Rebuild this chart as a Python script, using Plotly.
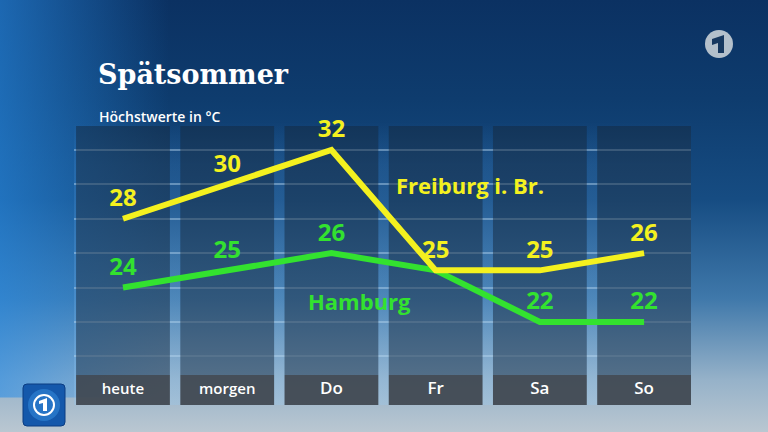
import plotly.graph_objects as go

# =====================================================
# DATA
# =====================================================
days = ["heute", "morgen", "Do", "Fr", "Sa", "So"]
freiburg = [28, 30, 32, 25, 25, 26]
hamburg = [24, 25, 26, 25, 22, 22]
hamburg_labels = ["24", "25", "26", "", "22", "22"]
grid_values = [20, 22, 24, 26, 28, 30, 32]

YELLOW = "#f4f11f"
GREEN = "#33e22f"
W, H = 768, 432

# y scale: column area and label band (in °C units of the chart axis)
y_lo, y_hi = 17.17, 33.86
col_base, col_top = 18.92, 33.4

fig = go.Figure()


def bg_rect(x0, x1, y0, y1, kind, scale, start, stop):
    """Gradient-filled rectangle on the full-canvas axis (0..1 both ways)."""
    fig.add_trace(go.Scatter(
        x=[x0, x1, x1, x0, x0], y=[y0, y0, y1, y1, y0],
        mode="lines", fill="toself", line=dict(width=0),
        fillgradient=dict(type=kind, start=start, stop=stop, colorscale=scale),
        hoverinfo="skip", showlegend=False,
    ))


def pix_path(points):
    """SVG path in paper coords from pixel points (top-left origin)."""
    parts = [f"{x / W},{1 - y / H}" for x, y in points]
    return "M " + " L ".join(parts) + " Z"


# --------------------------------------------------
# BACKGROUND
# --------------------------------------------------
bg_rect(0, 1, 0, 1, "vertical",
        [[0, "#bac7d1"], [0.12, "#96b2c9"], [0.31, "#3f78aa"],
         [0.54, "#164c82"], [0.77, "#0e3c6e"], [1, "#0b3162"]], 0, 1)
bg_rect(0, 0.22, 0.08, 1, "horizontal",
        [[0, "rgba(40,140,230,0.6)"], [1, "rgba(40,140,230,0)"]], 0, 0.22)
# light glow behind the columns (visible in the gaps)
bg_rect(74 / W, 691 / W, (H - 405) / H, (H - 122) / H, "vertical",
        [[0, "rgba(150,200,240,0.30)"], [0.85, "rgba(90,160,230,0.16)"],
         [1, "rgba(90,160,230,0)"]],
        (H - 405) / H, (H - 122) / H)

# --------------------------------------------------
# COLUMNS + LABEL BAND (axis 2)
# --------------------------------------------------
fig.add_trace(go.Bar(
    x=days, y=[col_top - col_base] * len(days), base=col_base,
    width=0.9, marker=dict(color="rgba(20,40,62,0.5)", line=dict(width=0)),
    xaxis="x2", yaxis="y2", hoverinfo="skip", showlegend=False,
))
fig.add_trace(go.Bar(
    x=days, y=[col_base - y_lo] * len(days), base=y_lo,
    width=0.9, marker=dict(color="rgba(58,64,72,0.88)", line=dict(width=0)),
    xaxis="x2", yaxis="y2", hoverinfo="skip", showlegend=False,
))
fig.add_trace(go.Scatter(
    x=days, y=[(y_lo + col_base) / 2] * len(days),
    mode="text", text=days,
    textfont=dict(family="Open Sans", size=[15, 15, 17, 17, 17, 17],
                  color="white", weight=600),
    xaxis="x2", yaxis="y2", hoverinfo="skip", showlegend=False,
))

# --------------------------------------------------
# TEMPERATURE LINES
# --------------------------------------------------
for vals, labels, col in [(hamburg, hamburg_labels, GREEN),
                          (freiburg, [str(v) for v in freiburg], YELLOW)]:
    fig.add_trace(go.Scatter(
        x=days, y=vals, mode="lines+markers+text",
        text=labels, textposition="top center",
        textfont=dict(family="Open Sans", size=24, color=col, weight="bold"),
        line=dict(color=col, width=6),
        marker=dict(size=9, color="rgba(0,0,0,0)"),
        xaxis="x2", yaxis="y2", hoverinfo="skip", showlegend=False,
    ))

# series names
fig.add_annotation(x=3.33, y=29.95, xref="x2", yref="y2", text="Freiburg i. Br.",
                   showarrow=False,
                   font=dict(family="Open Sans", size=22, color=YELLOW, weight="bold"))
fig.add_annotation(x=2.27, y=23.2, xref="x2", yref="y2", text="Hamburg",
                   showarrow=False,
                   font=dict(family="Open Sans", size=22, color=GREEN, weight="bold"))

# --------------------------------------------------
# TITLES
# --------------------------------------------------
fig.add_annotation(x=96 / W, y=1 - 74 / H, xref="paper", yref="paper",
                   xanchor="left", yanchor="middle", text="Spätsommer", showarrow=False,
                   font=dict(family="DejaVu Serif", size=27, color="white", weight="bold"))
fig.add_annotation(x=97 / W, y=1 - 116 / H, xref="paper", yref="paper",
                   xanchor="left", yanchor="middle", text="Höchstwerte in °C", showarrow=False,
                   font=dict(family="Open Sans", size=14, color="white", weight=600))

# --------------------------------------------------
# LOGOS
# --------------------------------------------------
# ARD "1" top right
fig.add_shape(type="circle", xref="paper", yref="paper",
              x0=705 / W, x1=733 / W, y0=1 - 58 / H, y1=1 - 30 / H,
              fillcolor="#b4c0cb", line=dict(width=0), layer="above")
fig.add_shape(type="path", xref="paper", yref="paper",
              path=pix_path([(712, 39), (724, 35), (724, 53), (718, 53),
                             (718, 43), (712, 45)]),
              fillcolor="#17385f", line=dict(width=0), layer="above")

# tagesschau icon bottom left
fig.add_shape(type="path", xref="paper", yref="paper",
              path=(f"M {27/W},{1-384/H} L {61/W},{1-384/H} Q {65/W},{1-384/H} {65/W},{1-388/H} "
                    f"L {65/W},{1-422/H} Q {65/W},{1-426/H} {61/W},{1-426/H} "
                    f"L {27/W},{1-426/H} Q {23/W},{1-426/H} {23/W},{1-422/H} "
                    f"L {23/W},{1-388/H} Q {23/W},{1-384/H} {27/W},{1-384/H} Z"),
              fillcolor="#1458ab", line=dict(color="#0b3c82", width=1), layer="above")
fig.add_shape(type="circle", xref="paper", yref="paper",
              x0=28 / W, x1=60 / W, y0=1 - 421 / H, y1=1 - 389 / H,
              fillcolor="rgba(60,150,230,0.45)", line=dict(width=0), layer="above")
fig.add_shape(type="circle", xref="paper", yref="paper",
              x0=34 / W, x1=54 / W, y0=1 - 415 / H, y1=1 - 395 / H,
              fillcolor="rgba(0,0,0,0)", line=dict(color="white", width=2), layer="above")
fig.add_shape(type="path", xref="paper", yref="paper",
              path=pix_path([(39, 401), (47, 398), (47, 411), (43, 411),
                             (43, 403), (39, 404)]),
              fillcolor="white", line=dict(width=0), layer="above")

# --------------------------------------------------
# LAYOUT
# --------------------------------------------------
fig.update_layout(
    width=W, height=H,
    margin=dict(l=0, r=0, t=0, b=0),
    paper_bgcolor="#0b3160", plot_bgcolor="rgba(0,0,0,0)",
    barmode="overlay", showlegend=False,
    xaxis=dict(domain=[0, 1], range=[0, 1], visible=False, fixedrange=True),
    yaxis=dict(domain=[0, 1], range=[0, 1], visible=False, fixedrange=True),
    xaxis2=dict(domain=[74 / W, 691 / W], range=[-0.47, 5.45], anchor="y2",
                showgrid=False, showticklabels=False, zeroline=False, fixedrange=True),
    yaxis2=dict(domain=[(H - 405) / H, (H - 118) / H], range=[y_lo, y_hi], anchor="x2",
                tickmode="array", tickvals=grid_values, showticklabels=False,
                gridcolor="rgba(185,215,240,0.45)", gridwidth=2,
                zeroline=False, fixedrange=True),
)

fig.write_html("out.html", config={"displayModeBar": False},
               post_script="document.body.style.margin='0';")
